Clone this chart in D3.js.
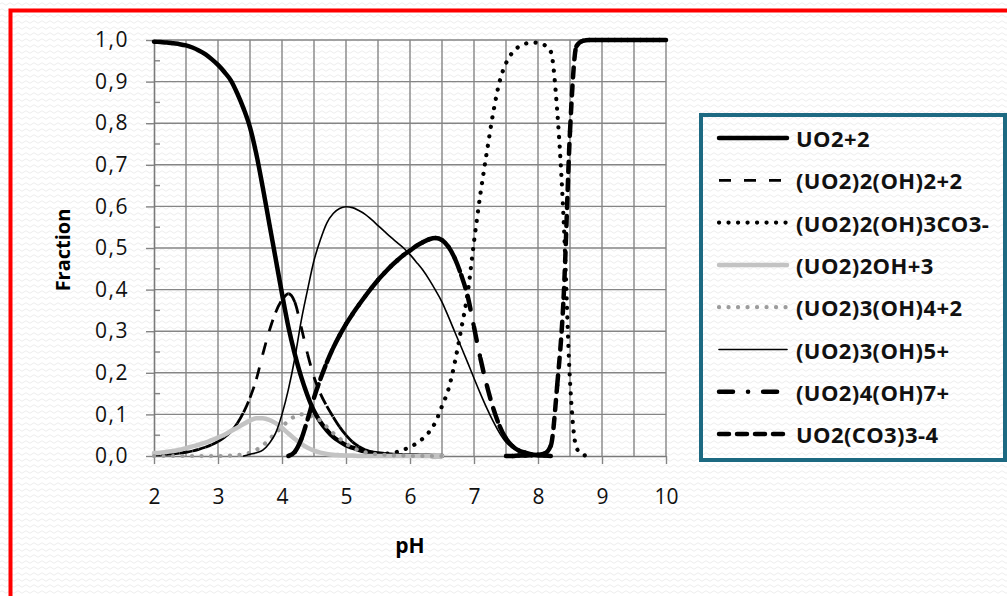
<!DOCTYPE html>
<html lang="en">
<head>
<meta charset="UTF-8">
<title>Uranium speciation vs pH</title>
<style>
  body { margin: 0; background: #fff; }
  svg { display: block; font-family: "Open Sans", sans-serif; }
</style>
</head>
<body>
<svg width="1007" height="596"></svg>

<script src="https://cdn.jsdelivr.net/npm/d3@7/dist/d3.min.js"></script>
<script>
// pH grid step of the tabulated data
var phStep = 0.1;
var phTicks = [2, 3, 4, 5, 6, 7, 8, 9, 10];
var fracTicks = [0, 0.1, 0.2, 0.3, 0.4, 0.5, 0.6, 0.7, 0.8, 0.9, 1.0];

// species fractions, read every 0.1 pH starting at the series' start pH
var uo2 = [0.996,0.995,0.994,0.992,0.990,0.987,0.982,0.975,0.966,0.954,
           0.940,0.923,0.903,0.872,0.835,0.790,0.725,0.645,0.560,0.475,
           0.390,0.310,0.245,0.190,0.145,0.108,0.082,0.062,0.046,0.035,
           0.026,0.020,0.015,0.011,0.008,0.006,0.004,0.003,0.002,0.0015,
           0.001,0.001,0.0005,0.0005,0,0];                       // 2.0 - 6.5
var uo2_2oh2 = [0.002,0.003,0.004,0.005,0.007,0.009,0.012,0.016,0.021,0.027,
                0.035,0.045,0.058,0.078,0.105,0.140,0.185,0.245,0.300,0.345,
                0.375,0.390,0.370,0.310,0.245,0.190,0.150,0.120,0.094,0.070,
                0.050,0.034,0.023,0.015,0.010,0.006,0.004,0.002,0.001,0.001,
                0.0005,0,0,0,0,0];                              // 2.0 - 6.5
var uo2_2oh3co3 = [0.003,0.005,0.007,0.010,0.015,0.022,0.030,0.042,0.058,0.082,
                   0.120,0.160,0.225,0.305,0.390,0.515,0.630,0.730,0.825,0.900,
                   0.944,0.970,0.984,0.991,0.994,0.993,0.988,0.972,0.830,0.570,
                   0.180,0.020,0.003,0];                         // 5.5 - 8.8
var uo2_2oh = [0.007,0.008,0.010,0.012,0.015,0.019,0.023,0.027,0.032,0.038,
               0.044,0.051,0.060,0.068,0.077,0.085,0.091,0.091,0.087,0.079,
               0.068,0.054,0.041,0.029,0.020,0.013,0.008,0.005,0.003,0.002,
               0.001,0.001,0,0,0,0,0,0,0,0,
               0,0,0,0,0,0];                                     // 2.0 - 6.5
var uo2_3oh4 = [0,0,0,0,0,0,0,0,0,0,
                0,0,0.001,0.002,0.004,0.008,0.015,0.025,0.040,0.055,
                0.070,0.085,0.095,0.100,0.098,0.093,0.085,0.070,0.055,0.042,
                0.030,0.020,0.014,0.009,0.006,0.004,0.003,0.002,0.001,0.001,
                0,0,0,0,0,0];                                    // 2.0 - 6.5
var uo2_3oh5 = [0,0.004,0.008,0.014,0.030,0.055,0.100,0.160,0.235,0.325,
                0.400,0.470,0.520,0.560,0.583,0.595,0.599,0.597,0.590,0.581,
                0.568,0.554,0.540,0.526,0.513,0.500,0.484,0.466,0.447,0.424,
                0.398,0.370,0.335,0.298,0.262,0.225,0.187,0.150,0.115,0.083,
                0.055,0.033,0.020,0.012,0.008,0.005,0.002,0.001,0]; // 3.4 - 8.2
var uo2_4oh7 = [0,0.010,0.040,0.088,0.140,0.185,0.225,0.260,0.290,0.317,
                0.341,0.363,0.384,0.404,0.423,0.440,0.456,0.470,0.483,0.494,
                0.505,0.514,0.521,0.524,0.519,0.503,0.475,0.435,0.385,0.310,
                0.235,0.170,0.115,0.072,0.042,0.024,0.013,0.008,0.004,0.002,
                0.001,0];                                        // 4.1 - 8.2
var uo2co3_3 = [0,0,0.001,0.001,0.002,0.003,0.006,0.025,0.170,0.380,
                0.780,0.985,0.998,1,1,1,1,1,1,1,
                1,1,1,1,1,1];                                    // 7.5 - 10.0

var series = [
  {name: "UO2+2",            start: 2.0, values: uo2,         color: "#000",    width: 4.5,  dash: null,             seg: false, cap: "round"},
  {name: "(UO2)2(OH)2+2",    start: 2.0, values: uo2_2oh2,    color: "#000",    width: 2.8,  dash: "12,13",          seg: true,  cap: "butt"},
  {name: "(UO2)2(OH)3CO3-",  start: 5.5, values: uo2_2oh3co3, color: "#000",    width: 4.2,  dash: "0.1,9.4",        seg: false, cap: "round"},
  {name: "(UO2)2OH+3",       start: 2.0, values: uo2_2oh,     color: "#c3c3c3", width: 4.5,  dash: null,             seg: false, cap: "round"},
  {name: "(UO2)3(OH)4+2",    start: 2.0, values: uo2_3oh4,    color: "#9c9c9c", width: 4.2,  dash: "0.1,9.4",        seg: false, cap: "round"},
  {name: "(UO2)3(OH)5+",     start: 3.4, values: uo2_3oh5,    color: "#000",    width: 1.6,  dash: null,             seg: false, cap: "round"},
  {name: "(UO2)4(OH)7+",     start: 4.1, values: uo2_4oh7,    color: "#000",    width: 4.5,  dash: "14,15,0.1,15",   seg: true,  cap: "round"},
  {name: "UO2(CO3)3-4",      start: 7.5, values: uo2co3_3,    color: "#000",    width: 4.5,  dash: "10,8",           seg: true,  cap: "round"}
];

var svg = d3.select("svg");
var defs = svg.append("defs");

// faint wavy background texture
var pat = defs.append("pattern")
  .attr("id", "wave").attr("patternUnits", "userSpaceOnUse")
  .attr("width", 8).attr("height", 6);
pat.append("rect").attr("width", 8).attr("height", 6).attr("fill", "#fff");
pat.append("path").attr("d", "M0,4 Q2,1.5 4,4 T8,4")
  .attr("fill", "none").attr("stroke", "#ebebeb").attr("stroke-width", 0.9);

svg.append("rect").attr("width", 1007).attr("height", 596).attr("fill", "url(#wave)");

// red outer frame
svg.append("rect")
  .attr("x", 10.5).attr("y", 10.5).attr("width", 1100).attr("height", 700)
  .attr("fill", "none").attr("stroke", "#ff0000").attr("stroke-width", 4);

var x = d3.scaleLinear().domain([2, 10]).range([154, 666]);
var y = d3.scaleLinear().domain([0, 1]).range([456, 40]);

var grid = svg.append("g");
var gridCol = "#858585";

// vertical grid every half pH unit
grid.selectAll(".vg")
  .data(d3.range(2.5, 10.01, 0.5))
  .enter().append("line")
  .attr("x1", function(d){ return x(d); }).attr("x2", function(d){ return x(d); })
  .attr("y1", y(1)).attr("y2", y(0))
  .attr("stroke", gridCol).attr("stroke-width", 1.4);

// horizontal grid
grid.selectAll(".hg")
  .data(fracTicks.slice(1))
  .enter().append("line")
  .attr("x1", x(2)).attr("x2", x(10))
  .attr("y1", function(d){ return y(d); }).attr("y2", function(d){ return y(d); })
  .attr("stroke", gridCol).attr("stroke-width", 1.4);

// minor ticks on the y axis (inside)
grid.selectAll(".mt")
  .data(d3.range(0.05, 1, 0.1))
  .enter().append("line")
  .attr("x1", x(2)).attr("x2", x(2) + 6)
  .attr("y1", function(d){ return y(d); }).attr("y2", function(d){ return y(d); })
  .attr("stroke", gridCol).attr("stroke-width", 1.4);

var comma = d3.formatLocale({decimal: ",", thousands: " ", grouping: [3], currency: ["", ""]});

var yAxis = svg.append("g")
  .attr("transform", "translate(" + x(2) + ",0)")
  .call(d3.axisLeft(y).tickValues(fracTicks).tickSize(8).tickSizeOuter(0)
        .tickPadding(17).tickFormat(comma.format(".1f")));

var xAxis = svg.append("g")
  .attr("transform", "translate(0," + y(0) + ")")
  .call(d3.axisBottom(x).tickValues(phTicks).tickSize(8).tickSizeOuter(0)
        .tickPadding(25).tickFormat(d3.format("d")));

[yAxis, xAxis].forEach(function(a){
  a.select(".domain").attr("stroke", "#7a7a7a").attr("stroke-width", 1.6);
  a.selectAll(".tick line").attr("stroke", gridCol).attr("stroke-width", 1.4);
  a.selectAll("text").attr("font-size", 21).attr("fill", "#111")
    .attr("font-family", "Open Sans, sans-serif");
});
yAxis.selectAll("text").attr("letter-spacing", 1.5);

// axis titles
svg.append("text")
  .attr("transform", "translate(62,250) rotate(-90)")
  .attr("text-anchor", "middle").attr("dominant-baseline", "central")
  .attr("font-size", 20).attr("font-weight", "bold").text("Fraction");
svg.append("text")
  .attr("x", 410).attr("y", 545)
  .attr("text-anchor", "middle").attr("dominant-baseline", "central")
  .attr("font-size", 21).attr("font-weight", "bold").text("pH");

function points(s) {
  return s.values.map(function(v, i){ return [s.start + i * phStep, v]; });
}

var line = d3.line()
  .x(function(d){ return x(d[0]); })
  .y(function(d){ return y(d[1]); })
  .curve(d3.curveMonotoneX);

var plot = svg.append("g").attr("fill", "none");

series.forEach(function(s){
  var d = line(points(s));
  if (!s.seg) {
    plot.append("path").attr("d", d)
      .attr("stroke", s.color).attr("stroke-width", s.width)
      .attr("stroke-dasharray", s.dash).attr("stroke-linecap", s.cap)
      .attr("stroke-linejoin", "round");
    return;
  }
  // dash pattern restarts on every data segment (as the spreadsheet renders it)
  var parts = d.slice(1).split("C");
  var prev = parts[0];
  parts.slice(1).forEach(function(p){
    var nums = p.split(",");
    plot.append("path").attr("d", "M" + prev + "C" + p)
      .attr("stroke", s.color).attr("stroke-width", s.width)
      .attr("stroke-dasharray", s.dash).attr("stroke-linecap", s.cap);
    prev = nums[4] + "," + nums[5];
  });
});

// legend
var lg = svg.append("g");
lg.append("rect")
  .attr("x", 701).attr("y", 115).attr("width", 304).attr("height", 345)
  .attr("fill", "url(#wave)").attr("stroke", "#1d6a82").attr("stroke-width", 4);

var row = lg.selectAll(".row").data(series).enter().append("g")
  .attr("transform", function(d, i){ return "translate(0," + (138 + i * 42.3) + ")"; });
row.append("line")
  .attr("x1", 719).attr("x2", 787)
  .attr("stroke", function(d){ return d.color; })
  .attr("stroke-width", function(d){ return d.width; })
  .attr("stroke-dasharray", function(d){ return d.dash; })
  .attr("stroke-linecap", function(d){ return d.cap; });
row.append("text")
  .attr("x", 796).attr("dominant-baseline", "central")
  .attr("font-size", 22).attr("font-weight", "bold").attr("fill", "#111")
  .attr("letter-spacing", 0.4)
  .text(function(d){ return d.name; });
</script>
</body>
</html>
